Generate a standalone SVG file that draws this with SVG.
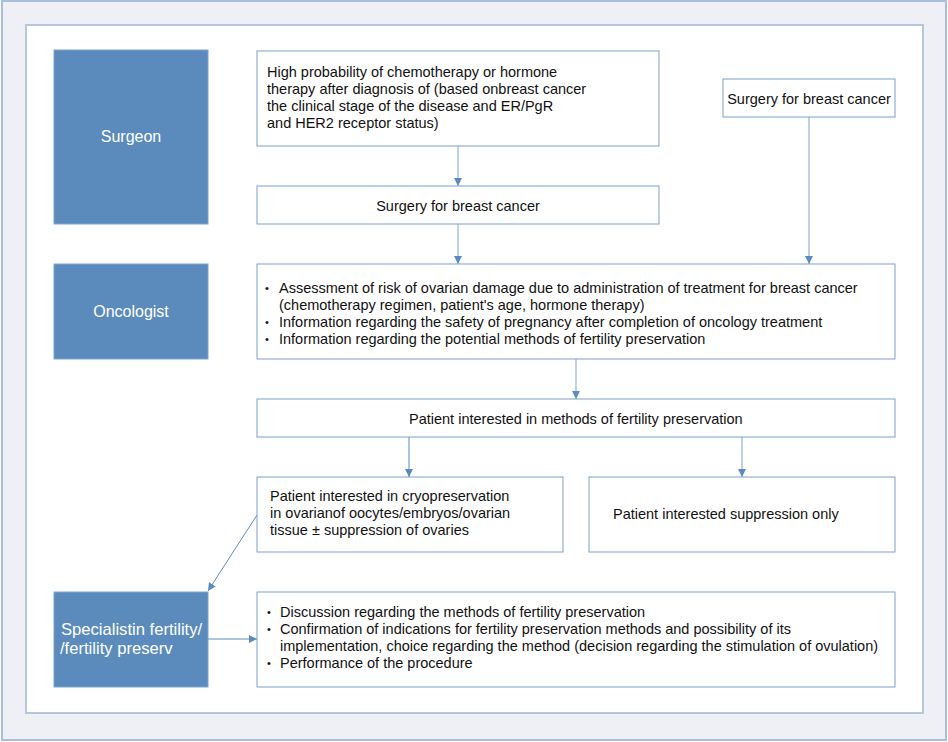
<svg xmlns="http://www.w3.org/2000/svg" width="948" height="742" viewBox="0 0 948 742">
<defs>
<style>
.frame{fill:#eff0f6;stroke:#a8bfdc;stroke-width:2}
.panel{fill:#ffffff;stroke:#b4c7dd;stroke-width:2}
.role{fill:#5b8bbd;stroke:#7fa3cc;stroke-width:1}
.box{fill:#ffffff;stroke:#7d9fcb;stroke-width:1}
.rt{font-family:"Liberation Sans",Arial,sans-serif;font-size:16px;fill:#ffffff}
.rs{font-family:"Liberation Sans",Arial,sans-serif;font-size:16.6px;fill:#ffffff}
.t{font-family:"Liberation Sans",Arial,sans-serif;font-size:14.5px;fill:#111111}
.b{font-family:"Liberation Sans",Arial,sans-serif;font-size:11px;fill:#111111}
.ln{fill:none;stroke:#a9c2de;stroke-width:1.5}
.dl{fill:none;stroke:#5b8bbd;stroke-width:1}
</style>
<marker id="ah" viewBox="0 0 10 10" refX="10" refY="5" markerWidth="8" markerHeight="8" markerUnits="userSpaceOnUse" orient="auto">
<path d="M0,0 L10,5 L0,10 Z" fill="#5b8bbd"/>
</marker>
</defs>
<rect class="frame" x="2" y="1" width="944" height="739"/>
<rect class="panel" x="26" y="25" width="897" height="688"/>

<g id="connectors">
<line class="ln" x1="458" y1="146" x2="458" y2="186" marker-end="url(#ah)"/>
<line class="ln" x1="458" y1="224" x2="458" y2="264" marker-end="url(#ah)"/>
<line class="ln" x1="809" y1="117" x2="809" y2="264" marker-end="url(#ah)"/>
<line class="ln" x1="576" y1="359" x2="576" y2="399" marker-end="url(#ah)"/>
<line class="dl" x1="409" y1="437" x2="409" y2="477" marker-end="url(#ah)"/>
<line class="ln" x1="742" y1="437" x2="742" y2="477" marker-end="url(#ah)"/>
<line class="dl" x1="257" y1="515" x2="208" y2="591" marker-end="url(#ah)"/>
<line class="dl" x1="208" y1="639" x2="257" y2="639" marker-end="url(#ah)"/>
</g>

<g id="surgeon">
<rect class="role" x="54" y="50" width="154" height="174"/>
<text class="rt" x="131" y="142" text-anchor="middle">Surgeon</text>
</g>

<g id="high-probability">
<rect class="box" x="257" y="51" width="402" height="95"/>
<text class="t" x="267" y="77">High probability of chemotherapy or hormone</text>
<text class="t" x="267" y="94">therapy after diagnosis of (based onbreast cancer</text>
<text class="t" x="267" y="111">the clinical stage of the disease and ER/PgR</text>
<text class="t" x="267" y="128">and HER2 receptor status)</text>
</g>

<g id="surgery-1">
<rect class="box" x="257" y="186" width="402" height="38"/>
<text class="t" x="458" y="211" text-anchor="middle">Surgery for breast cancer</text>
</g>

<g id="surgery-2">
<rect class="box" x="723" y="79" width="172" height="38"/>
<text class="t" x="809" y="104" text-anchor="middle">Surgery for breast cancer</text>
</g>

<g id="oncologist">
<rect class="role" x="54" y="264" width="154" height="95"/>
<text class="rt" x="131" y="317" text-anchor="middle">Oncologist</text>
</g>

<g id="assessment">
<rect class="box" x="257" y="264" width="638" height="95"/>
<text class="b" x="265" y="292">•</text>
<text class="t" x="279" y="293">Assessment of risk of ovarian damage due to administration of treatment for breast cancer</text>
<text class="t" x="279" y="310">(chemotherapy regimen, patient's age, hormone therapy)</text>
<text class="b" x="265" y="326">•</text>
<text class="t" x="279" y="327">Information regarding the safety of pregnancy after completion of oncology treatment</text>
<text class="b" x="265" y="343">•</text>
<text class="t" x="279" y="344">Information regarding the potential methods of fertility preservation</text>
</g>

<g id="patient-interested">
<rect class="box" x="257" y="399" width="638" height="38"/>
<text class="t" x="409" y="424">Patient interested in methods of fertility preservation</text>
</g>

<g id="cryopreservation">
<rect class="box" x="257" y="477" width="306" height="75"/>
<text class="t" x="270" y="501">Patient interested in cryopreservation</text>
<text class="t" x="270" y="518">in ovarianof oocytes/embryos/ovarian</text>
<text class="t" x="270" y="535">tissue ± suppression of ovaries</text>
</g>

<g id="suppression">
<rect class="box" x="589" y="477" width="306" height="75"/>
<text class="t" x="613" y="519">Patient interested suppression only</text>
</g>

<g id="specialist">
<rect class="role" x="54" y="592" width="154" height="95"/>
<text class="rs" x="61" y="635">Specialistin fertility/</text>
<text class="rs" x="60" y="654">/fertility preserv</text>
</g>

<g id="procedure">
<rect class="box" x="257" y="592" width="638" height="95"/>
<text class="b" x="267" y="616">•</text>
<text class="t" x="280" y="617">Discussion regarding the methods of fertility preservation</text>
<text class="b" x="267" y="633">•</text>
<text class="t" x="280" y="634">Confirmation of indications for fertility preservation methods and possibility of its</text>
<text class="t" x="280" y="651">implementation, choice regarding the method (decision regarding the stimulation of ovulation)</text>
<text class="b" x="267" y="667">•</text>
<text class="t" x="280" y="668">Performance of the procedure</text>
</g>
</svg>
